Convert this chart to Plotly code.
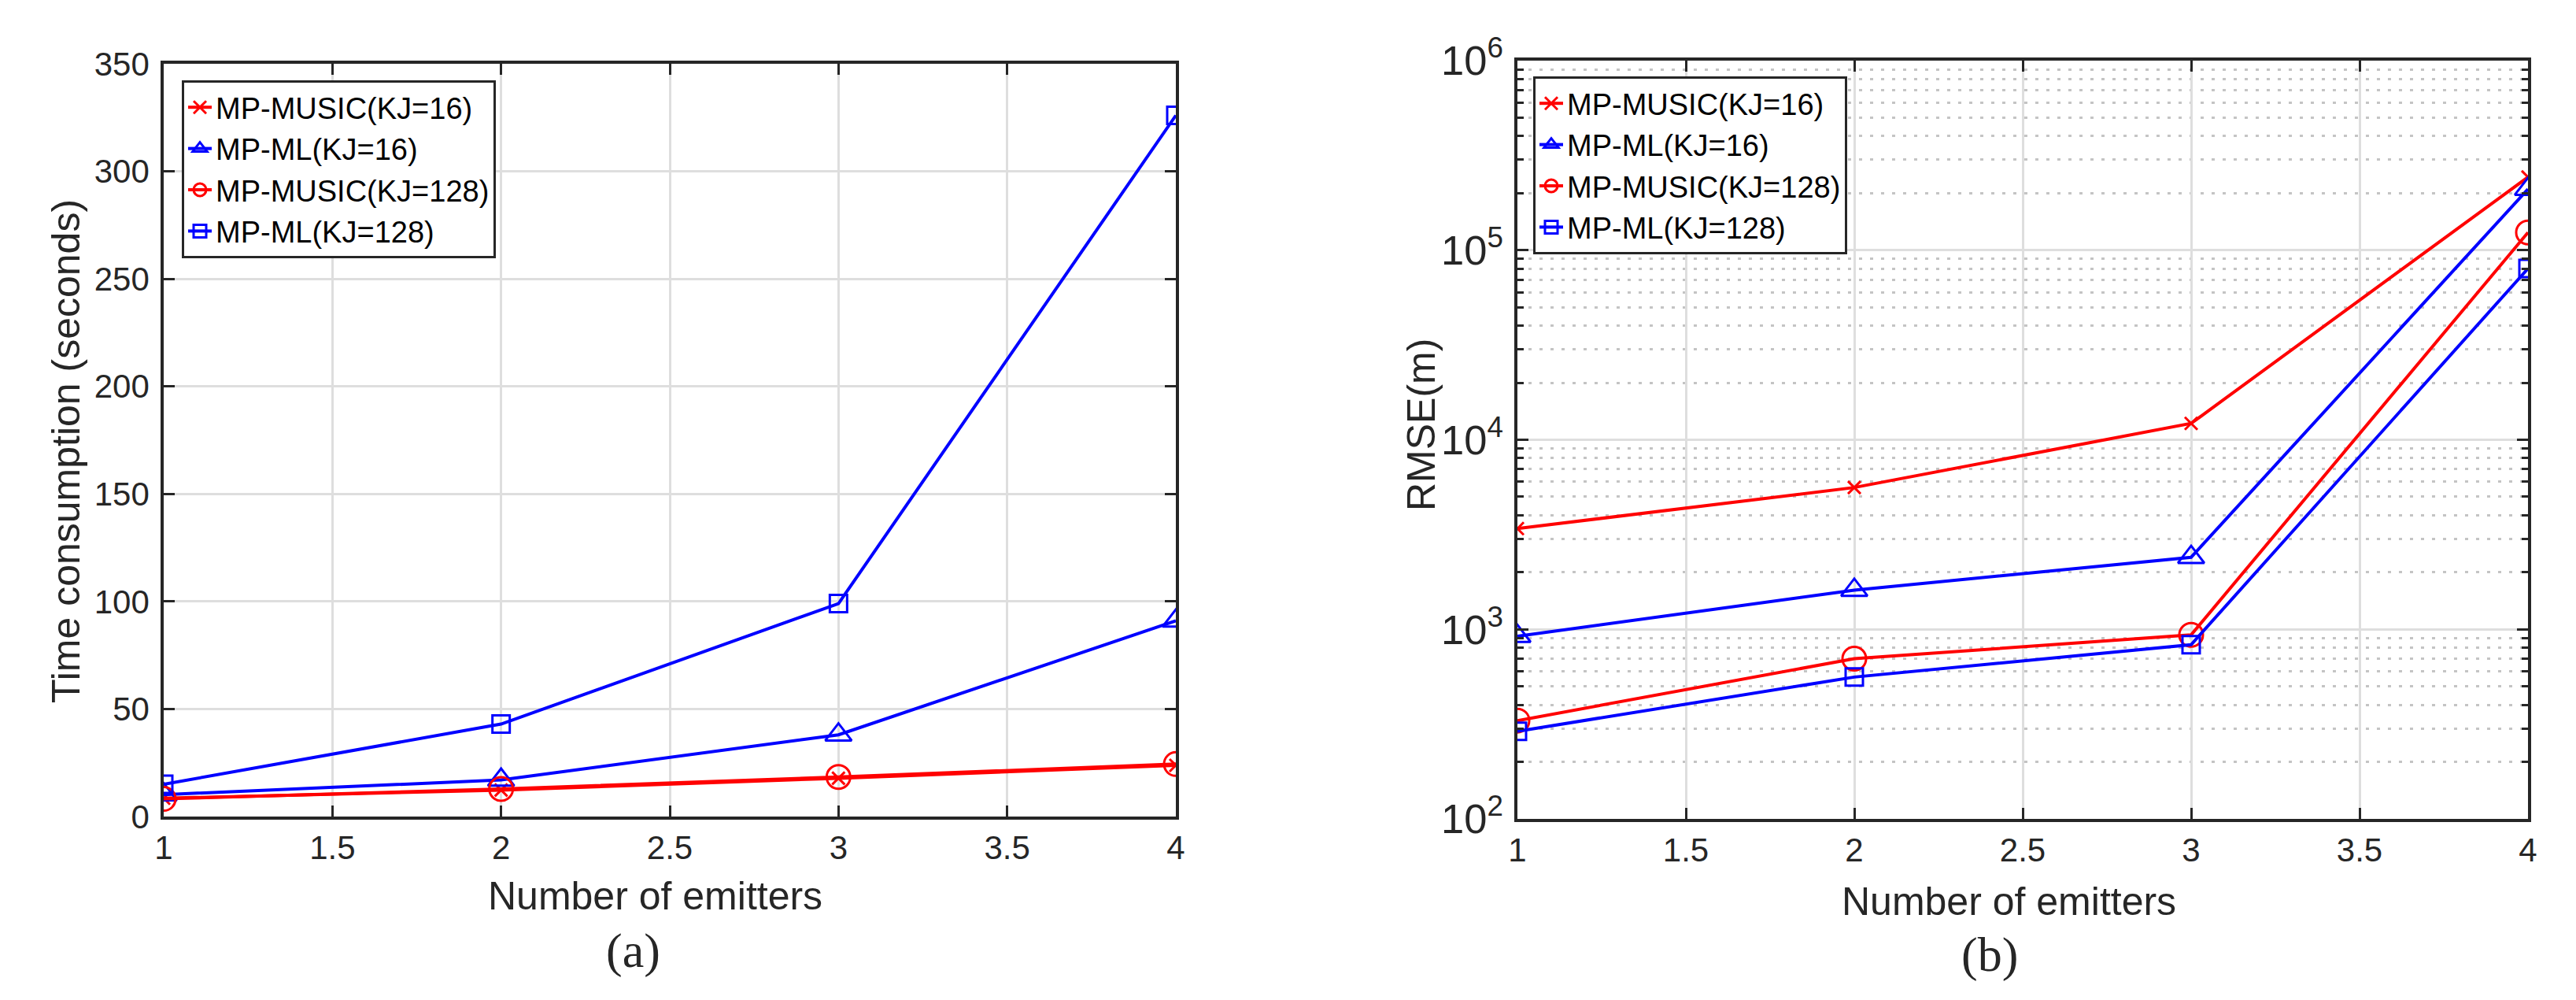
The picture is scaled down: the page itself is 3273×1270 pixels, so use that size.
import plotly.graph_objects as go

# number of emitters
emitters = [1, 2, 3, 4]

# (a) time consumption in seconds
time_music16 = [8.5, 12.3, 17.8, 23.8]
time_ml16 = [10.2, 17.0, 38.0, 91.0]
time_music128 = [8.2, 12.8, 18.4, 24.4]
time_ml128 = [15.0, 43.0, 99.0, 326.0]

# (b) RMSE in metres
rmse_music16 = [3400, 5600, 12200, 243000]
rmse_ml16 = [920, 1610, 2400, 210000]
rmse_music128 = [330, 700, 935, 124000]
rmse_ml128 = [290, 560, 830, 80000]

names = ['MP-MUSIC(KJ=16)', 'MP-ML(KJ=16)', 'MP-MUSIC(KJ=128)', 'MP-ML(KJ=128)']
colors = ['#ff0000', '#0000ff', '#ff0000', '#0000ff']
symbols = ['x-thin-open', 'triangle-up-open', 'circle-open', 'square-open']
sizes = [16, 29, 30, 22]

W, H = 3273, 1270
AX = '#262626'
GRID = '#dedede'
MINOR = '#c4c4c4'
SANS = 'Liberation Sans, Arial, sans-serif'
SERIF = 'Liberation Serif, Times New Roman, serif'

fig = go.Figure()

left = [time_music16, time_ml16, time_music128, time_ml128]
right = [rmse_music16, rmse_ml16, rmse_music128, rmse_ml128]

for i, ys in enumerate(left):
    fig.add_trace(go.Scatter(
        x=emitters, y=ys, name=names[i], mode='lines+markers',
        line=dict(color=colors[i], width=4),
        marker=dict(symbol=symbols[i], size=sizes[i], color=colors[i],
                    line=dict(color=colors[i], width=3)),
        xaxis='x', yaxis='y', legend='legend'))

for i, ys in enumerate(right):
    fig.add_trace(go.Scatter(
        x=emitters, y=ys, name=names[i], mode='lines+markers',
        line=dict(color=colors[i], width=4),
        marker=dict(symbol=symbols[i], size=sizes[i], color=colors[i],
                    line=dict(color=colors[i], width=3)),
        xaxis='x2', yaxis='y2', legend='legend2'))

tickfont = dict(family=SANS, size=42, color=AX)
common = dict(showline=True, linecolor=AX, linewidth=3.5, mirror='ticks',
              ticks='inside', ticklen=14, tickwidth=3, tickcolor=AX,
              showgrid=True, gridcolor=GRID, gridwidth=3, zeroline=False,
              tickfont=tickfont, automargin=False)

fig.update_layout(
    width=W, height=H,
    margin=dict(l=0, r=0, t=0, b=0),
    paper_bgcolor='white', plot_bgcolor='white',
    showlegend=True,
    xaxis=dict(domain=[200 / W, 1486 / W], range=[1, 4], dtick=0.5,
               tick0=1, anchor='y', ticklabelstandoff=0, **common),
    yaxis=dict(domain=[1 - 1029 / H, 1 - 73 / H], range=[0, 350], dtick=50,
               anchor='x', ticklabelstandoff=6, **common),
    xaxis2=dict(domain=[1920 / W, 3204 / W], range=[1, 4], dtick=0.5,
                tick0=1, anchor='y2', ticklabelstandoff=0, **common),
    yaxis2=dict(domain=[1 - 1032 / H, 1 - 69 / H], type='log', range=[2, 6],
                dtick=1, exponentformat='power', showexponent='all',
                anchor='x2', ticklabelstandoff=6,
                minor=dict(ticks='inside', ticklen=8, tickwidth=3,
                           tickcolor=AX, dtick='D1', showgrid=True,
                           gridcolor=MINOR, gridwidth=3, griddash='4px,10px'),
                **common),
    legend=dict(x=223 / W, y=1 - 94 / H, xanchor='left', yanchor='top',
                bgcolor='white', bordercolor=AX, borderwidth=3,
                font=dict(family=SANS, size=38, color='black'),
                itemwidth=30, tracegroupgap=0),
    legend2=dict(x=1940 / W, y=1 - 89 / H, xanchor='left', yanchor='top',
                 bgcolor='white', bordercolor=AX, borderwidth=3,
                 font=dict(family=SANS, size=38, color='black'),
                 itemwidth=30, tracegroupgap=0),
)

labels = [
    ('Number of emitters', 824, 1130, 0, SANS, 50),
    ('Number of emitters', 2544, 1137, 0, SANS, 50),
    ('Time consumption (seconds)', 76, 565, -90, SANS, 50),
    ('RMSE(m)', 1798, 532, -90, SANS, 50),
    ('(a)', 796, 1199, 0, SERIF, 62),
    ('(b)', 2520, 1204, 0, SERIF, 62),
]
for text, px_, py_, ang, fam, fs in labels:
    fig.add_annotation(text=text, x=px_ / W, y=1 - py_ / H, xref='paper',
                       yref='paper', xanchor='center', yanchor='middle',
                       textangle=ang, showarrow=False,
                       font=dict(family=fam, size=fs, color=AX))

fig.write_html('out.html')
